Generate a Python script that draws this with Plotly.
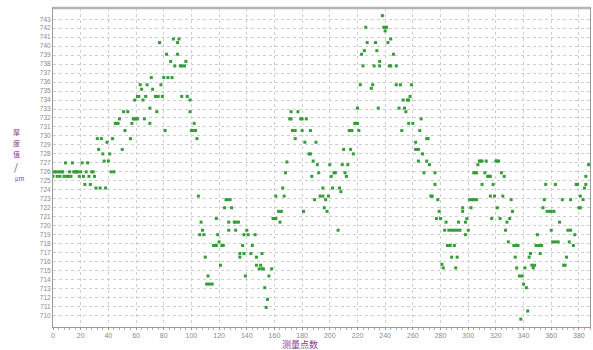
import plotly.graph_objects as go

# measurement index (测量点数)
x_idx = [
    0,1,2,3,4,5,6,7,8,9,10,11,12,13,14,15,16,17,18,19,20,21,22,23,24,25,26,27,28,29,30,31,32,33,34,35,36,37,38,39,40,41,42,43,44,
    45,46,47,48,50,51,52,54,56,57,58,59,60,61,59,61,62,63,64,65,66,67,68,70,70,71,72,74,75,76,75,77,78,79,80,83,86,81,82,85,87,88,90,90,91,92,93,95,93,96,97,99,99,100,101,103,102,104,
    105,106,107,108,109,110,111,113,115,112,116,117,118,118,119,120,121,122,123,
    125,126,128,124,129,127,131,132,134,127,132,140,138,141,146,137,144,135,138,143,151,135,147,147,150,149,151,152,158,139,156,153,155,154,
    159,160,161,164,163,165,161,167,166,168,169,181,175,173,175,180,186,171,172,179,180,183,172,177,182,190,185,186,188,191,200,192,203,204,211,187,201,212,195,202,207,208,193,195,199,189,197,196,198,206,
    209,213,210,215,217,214,215,216,221,218,219,220,220,235,222,231,230,224,232,236,243,244,248,236,223,246,225,234,227,233,242,244,226,239,240,241,240,238,248,251,253,250,252,
    259,258,256,257,254,255,266,257,260,265,270,271,262,262,264,267,264,270,272,268,276,276,273,274,278,279,277,280,284,283,286,288,290,292,294,300,298,285,287,290,288,292,281,282,291,
    293,298,299,296,296,302,301,303,304,306,304,305,306,312,307,308,309,310,313,320,321,322,314,315,316,326,310,318,324,316,319,325,331,321,332,317,323,330,328,327,329,333,335,336,334,335,341,
    337,339,340,342,343,338,347,346,348,344,345,349,351,353,352,350,354,355,368,374,356,363,378,379,385,357,359,360,362,366,360,372,374,361,363,365,373,376,377,371,369,370,380,381,381,383,384,385,387,
]

# thickness value (厚度值 / μm)
thickness = [
    725.5,726,726,725.5,726,725.5,726,726,725.5,727,725.5,725.5,726,725.5,727,726,726,726,726,725.5,726,727,725.5,724.6,726,727,725.5,724.6,726,726,725.5,724.2,729.7,728.5,724.2,729.7,728,727.2,724.2,729.3,727.2,728,726,729.7,726,
    731.4,731.4,731.4,731.9,728.5,732.7,730.6,732.7,729.7,731.4,731.9,731.9,731.9,731.9,734,734.4,734.4,735.7,735.2,734,731.9,734.4,735.7,731.4,733.1,736.5,735.2,734.4,734.4,734.4,732.7,740.4,735.7,734.4,736.5,736.5,736.5,730.6,739.1,738.3,740.8,737.8,739.1,740.4,740.8,737.8,737.8,737.8,734.4,738.3,734.4,734,732.7,730.6,730.6,730.6,731.4,729.7,
    723.3,719,720.4,719.5,719,716.5,713.5,713.5,713.5,714.4,717.8,717.8,717.8,720.8,719,718.2,715.6,717.8,717.8,
    722.9,722.9,722.9,722,722,720.4,720.4,720.4,720.4,719.5,719.5,719.5,719,719,719,717.8,717.8,716.9,716.9,716.9,716.9,716.5,716.5,715.6,715.6,715.2,715.2,715.2,715.2,714.4,714.4,713.1,711.8,710.9,
    720.8,720.8,720.8,720.4,721.6,721.6,723.3,723.3,724.2,725.9,727.1,721.6,729.7,730.6,730.6,730.6,730.6,731.9,731.9,731.9,731.9,731.9,732.7,732.7,729.3,729.3,728,728,727.2,726.8,726.8,725.9,725.9,725.9,725.9,725.5,725.5,725.5,724.2,724.2,724.2,723.8,723.3,723.3,723.3,722.9,722.9,722,721.6,719.5,
    726.8,726.8,728.5,728.5,728,730.6,730.6,730.6,730.6,731.4,731.4,731.4,733.1,733.1,735.7,735.7,735.3,737.8,737.8,737.8,737.8,737.8,737.8,738.3,739.1,739.1,739.5,739.5,740.4,740.4,740.4,740.8,742.1,742.1,742.1,742.1,741.7,743.4,735.7,735.7,734,733.1,730.6,
    735.7,734.4,734,734,733.1,732.7,731.9,731.4,731.4,730.6,729.7,729.7,729.3,728.5,728.5,728,727.2,727.2,726.8,725.9,725.9,724.6,723.3,723.3,722.9,721.6,720.8,720.8,720.4,719.5,719.5,719.5,719.5,719.5,719.5,719.5,719,717.8,717.8,717.8,716.5,716.5,715.7,715.3,715.3,
    720.4,720.4,720.8,721.6,722,722,722.9,722.9,722.9,722.9,725.9,725.9,725.9,725.9,726.8,727.2,727.2,727.2,727.2,727.2,727.2,727.2,725.5,725.5,725.5,725.5,724.6,724.6,725.9,723.3,723.3,723.3,722.9,722,721.6,720.8,720.8,720.8,720.4,719.5,718.2,717.8,717.8,717.8,716.5,715.3,715.3,
    714.4,714.4,713.5,713.1,710.5,709.6,715.3,715.6,715.6,716.5,716.9,717.8,717.8,717.8,716.9,719,722,722.9,722.9,722.9,724.6,724.6,724.6,724.6,724.6,721.6,721.6,721.6,721.6,720.4,719.5,719.5,719.5,718.2,718.2,718.2,718.2,717.8,719,716.5,715.6,715.6,722,722,723.3,722.9,724.2,725.5,726.8,
]

x_ticks = list(range(0, 381, 20))
y_ticks = list(range(710, 744))

# y-axis title pieces (vertical stacking)
y_title_chars = ["厚", "度", "值", "/"]
y_title_unit = "μm"
x_title = "测量点数"

PURPLE = "#8a3a94"
GRID = "#cfcfcf"
TICKCOL = "#8a8a8a"

L, R, T, B = 53, 590, 8, 327
W = R - L
H = B - T


def px(xp):
    return (xp - L) / W


def py(yp):
    return (B - yp) / H


fig = go.Figure(go.Scatter(
    x=x_idx, y=thickness, mode="markers",
    marker=dict(symbol="square", size=3, color="#359c3a"),
    hoverinfo="x+y", showlegend=False,
))

annotations = []
char_y = [132, 143, 154, 166]
char_size = [7, 7, 7, 10]
for ch, yy, fs in zip(y_title_chars, char_y, char_size):
    annotations.append(dict(text=ch, xref="paper", yref="paper", x=px(16), y=py(yy),
                            showarrow=False, xanchor="center", yanchor="middle",
                            borderpad=0,
                            font=dict(family="Noto Sans CJK SC", size=fs, color=PURPLE)))
annotations.append(dict(text=y_title_unit, xref="paper", yref="paper", x=px(20), y=py(178),
                        showarrow=False, xanchor="center", yanchor="middle", borderpad=0,
                        font=dict(family="Noto Sans CJK SC", size=6, color=PURPLE)))
annotations.append(dict(text=x_title, xref="paper", yref="paper", x=px(300), y=py(344),
                        showarrow=False, xanchor="center", yanchor="middle",
                        font=dict(family="Noto Sans CJK SC", size=9, color=PURPLE)))

fig.update_layout(
    width=593, height=350,
    margin=dict(l=L, r=593 - R, t=T, b=350 - B),
    paper_bgcolor="white", plot_bgcolor="white",
    font=dict(family="Liberation Sans, Arial, sans-serif", size=7, color=TICKCOL),
    xaxis=dict(
        range=[0, 388], tickvals=x_ticks, ticktext=[str(v) for v in x_ticks],
        showgrid=True, gridcolor=GRID, griddash="dot", gridwidth=1,
        showline=True, linecolor="#9a9a9a", linewidth=1, mirror=True,
        ticks="outside", ticklen=2, tickcolor="#9a9a9a",
        minor=dict(ticks="outside", ticklen=2, dtick=4, tickcolor="#b0b0b0", showgrid=False),
        tickfont=dict(size=7, color=TICKCOL), zeroline=False,
    ),
    yaxis=dict(
        range=[708.72, 744.25], tickvals=y_ticks, ticktext=[str(v) for v in y_ticks],
        showgrid=True, gridcolor=GRID, griddash="dot", gridwidth=1,
        showline=True, linecolor="#9a9a9a", linewidth=1, mirror=True,
        ticks="", tickfont=dict(size=6.5, color=TICKCOL), zeroline=False,
    ),
    shapes=[dict(type="line", xref="paper", yref="paper", x0=0, x1=1, y0=1, y1=1,
                 line=dict(color="#b4b4b4", width=2.5))],
    annotations=annotations,
)

fig.write_html("out.html", config={"displayModeBar": False},
               post_script="document.body.style.margin='0';document.body.style.padding='0';")
